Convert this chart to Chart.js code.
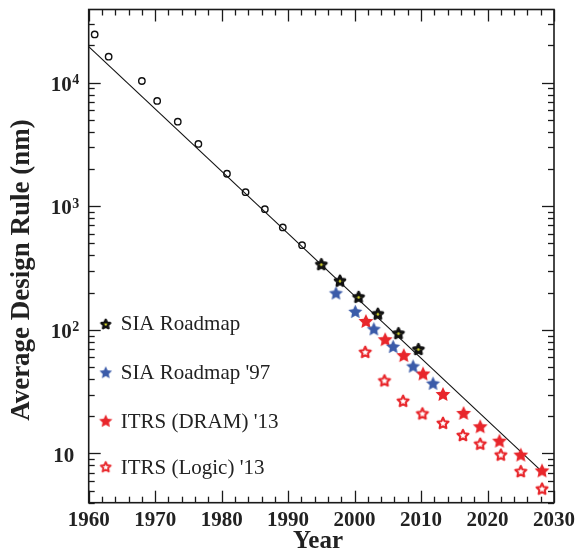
<!DOCTYPE html>
<html>
<head>
<meta charset="utf-8">
<style>
  html, body { margin: 0; padding: 0; background: #fff; }
  canvas { display: block; }
</style>
</head>
<body>
<canvas id="myChart" width="579" height="559"></canvas>

<script src="https://cdn.jsdelivr.net/npm/chart.js"></script>

<script>
// historical design rules (open circles)
const histYears = [1960.9, 1963.0, 1968.0, 1970.3, 1973.4, 1976.5, 1980.8, 1983.6, 1986.5, 1989.2, 1992.1];
const histRule  = [24500, 16200, 10300, 7100, 4830, 3190, 1830, 1300, 946, 674, 484];

const siaYears = [1995.0, 1997.8, 2000.6, 2003.5, 2006.6, 2009.6];
const siaRule  = [340, 250, 185, 135, 94, 70];

const sia97Years = [1997.2, 2000.1, 2002.9, 2005.8, 2008.8, 2011.8];
const sia97Rule  = [199, 141, 102, 73.5, 51, 37];

const dramYears = [2001.7, 2004.6, 2007.4, 2010.3, 2013.3, 2016.4, 2018.9, 2021.8, 2025.0, 2028.2];
const dramRule  = [118, 84, 62.5, 44.4, 30.3, 21.3, 16.6, 12.7, 9.8, 7.3];

const logicYears = [2001.6, 2004.5, 2007.3, 2010.2, 2013.3, 2016.3, 2018.9, 2022.0, 2025.0, 2028.2];
const logicRule  = [66.4, 39, 26.7, 21.1, 17.7, 14.1, 12.0, 9.8, 7.2, 5.2];

// trend line end points
const trendYears = [1960, 2028];
const trendRule  = [19500, 7.3];

const xTicks = [1960, 1970, 1980, 1990, 2000, 2010, 2020, 2030];
const yTicks = [10, 100, 1000, 10000];
const legendLabels = ['SIA Roadmap', "SIA Roadmap '97", "ITRS (DRAM) '13", "ITRS (Logic) '13"];

const FONT = '"Liberation Serif", "Times New Roman", serif';
const RED = '#e8262b';
const BLUE = '#3b5ba9';

const pts = (xs, ys) => xs.map((x, i) => ({ x: x, y: ys[i] }));

function starCanvas(r, fill, stroke, lw) {
  const s = Math.ceil(2 * r + lw + 4);
  const c = document.createElement('canvas');
  c.width = s; c.height = s;
  const g = c.getContext('2d');
  const cx = s / 2, cy = s / 2 + r * 0.1;
  g.beginPath();
  for (let i = 0; i < 10; i++) {
    const rad = i % 2 ? r * 0.48 : r;
    const a = -Math.PI / 2 + i * Math.PI / 5;
    g.lineTo(cx + rad * Math.cos(a), cy + rad * Math.sin(a));
  }
  g.closePath();
  if (fill) { g.fillStyle = fill; g.fill(); }
  if (stroke) { g.lineWidth = lw; g.strokeStyle = stroke; g.lineJoin = 'round'; g.stroke(); }
  return c;
}

const siaStar   = starCanvas(5.2, '#d6d62e', '#111', 2.8);
const sia97Star = starCanvas(7.4, BLUE, null, 0);
const dramStar  = starCanvas(7.8, RED, null, 0);
const logicStar = starCanvas(5.8, '#fff', RED, 2.1);

const legendStars = [
  starCanvas(4.6, '#d6d62e', '#111', 2.4),
  starCanvas(6.6, BLUE, null, 0),
  starCanvas(7, RED, null, 0),
  starCanvas(5.2, '#fff', RED, 1.9)
];

const frame = {
  id: 'frame',
  afterDraw(chart) {
    const { ctx, chartArea: a, scales: { x, y } } = chart;
    const seg = (x1, y1, x2, y2) => { ctx.beginPath(); ctx.moveTo(x1, y1); ctx.lineTo(x2, y2); ctx.stroke(); };
    ctx.save();
    ctx.strokeStyle = '#1a1a1a';

    // inward ticks
    ctx.lineWidth = 1.3;
    for (let yr = x.min; yr <= x.max; yr += 2) {
      const px = Math.round(x.getPixelForValue(yr)) + 0.5;
      const len = yr % 10 === 0 ? 12 : 6;
      seg(px, a.bottom, px, a.bottom - len);
      seg(px, a.top, px, a.top + len);
    }
    for (let k = 1; k <= 10000; k *= 10) {
      for (let m = 1; m <= 9; m++) {
        const v = m * k;
        if (v < y.min || v > y.max) continue;
        const py = Math.round(y.getPixelForValue(v)) + 0.5;
        const len = m === 1 ? 12 : 6;
        seg(a.left, py, a.left + len, py);
        seg(a.right, py, a.right - len, py);
      }
    }

    ctx.lineWidth = 1.6;
    ctx.strokeRect(a.left, a.top, a.right - a.left, a.bottom - a.top);

    ctx.fillStyle = '#222';
    // x tick labels
    ctx.font = 'bold 21px ' + FONT;
    ctx.textAlign = 'center';
    ctx.textBaseline = 'alphabetic';
    xTicks.forEach(t => ctx.fillText(String(t), x.getPixelForValue(t), a.bottom + 23));

    // y tick labels, 10 with exponent
    yTicks.forEach(t => {
      const py = y.getPixelForValue(t);
      const e = Math.round(Math.log10(t));
      ctx.textAlign = 'right';
      ctx.font = 'bold 21px ' + FONT;
      if (e === 1) {
        ctx.fillText('10', a.left - 14.5, py + 8.4);
      } else {
        ctx.fillText('10', a.left - 17, py + 8);
        ctx.textAlign = 'left';
        ctx.font = 'bold 14px ' + FONT;
        ctx.fillText(String(e), a.left - 16.5, py + 1.5);
      }
    });

    // axis titles
    ctx.font = 'bold 25px ' + FONT;
    ctx.textAlign = 'center';
    ctx.fillText('Year', 318, 548);
    ctx.save();
    ctx.translate(29, 270);
    ctx.rotate(-Math.PI / 2);
    ctx.font = 'bold 27px ' + FONT;
    ctx.fillText('Average Design Rule (nm)', 0, 0);
    ctx.restore();

    // legend
    const markY = [324, 372.3, 420.7, 466.7];
    const textY = [330, 378.7, 428.3, 474];
    ctx.font = '21px ' + FONT;
    ctx.textAlign = 'left';
    legendLabels.forEach((lbl, i) => {
      const img = legendStars[i];
      ctx.drawImage(img, 105.7 - img.width / 2, markY[i] - img.height / 2);
      ctx.fillText(lbl, 120.7, textY[i]);
    });
    ctx.restore();
  }
};

const config = {
  type: 'scatter',
  data: {
    datasets: [
      { label: legendLabels[0], data: pts(siaYears, siaRule), pointStyle: siaStar },
      { label: legendLabels[1], data: pts(sia97Years, sia97Rule), pointStyle: sia97Star },
      { label: legendLabels[2], data: pts(dramYears, dramRule), pointStyle: dramStar },
      { label: legendLabels[3], data: pts(logicYears, logicRule), pointStyle: logicStar },
      {
        label: 'history', data: pts(histYears, histRule),
        pointStyle: 'circle', pointRadius: 3.2, borderWidth: 1.4,
        borderColor: '#111', backgroundColor: 'rgba(0,0,0,0)'
      },
      {
        label: 'trend', data: pts(trendYears, trendRule),
        showLine: true, pointRadius: 0, borderColor: '#111', borderWidth: 1.1
      }
    ]
  },
  options: {
    responsive: false,
    animation: false,
    events: [],
    layout: { padding: { left: 88.7, top: 9.5, right: 25, bottom: 56.3 } },
    plugins: { legend: { display: false }, tooltip: { enabled: false } },
    scales: {
      x: { type: 'linear', min: 1960, max: 2030, display: false },
      y: { type: 'logarithmic', min: 4, max: 39000, display: false }
    }
  },
  plugins: [frame]
};

const ctx = document.getElementById('myChart');
const designChart = new Chart(ctx, config);
</script>
</body>
</html>
